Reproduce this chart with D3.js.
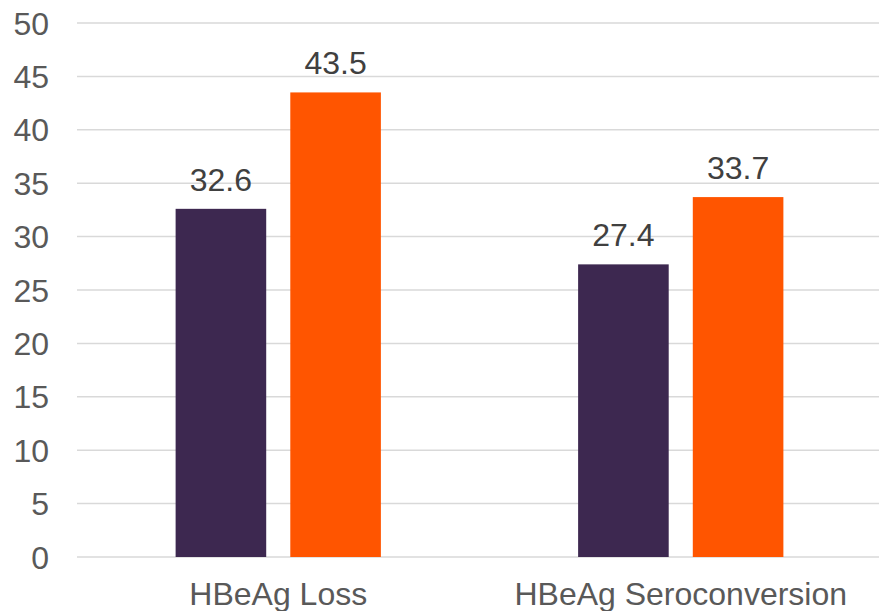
<!DOCTYPE html>
<html>
<head>
<meta charset="utf-8">
<script src="https://cdn.jsdelivr.net/npm/d3@7"></script>
<style>
  html, body { margin: 0; padding: 0; background: #ffffff; }
  svg { display: block; font-family: "Liberation Sans", Arial, sans-serif; }
</style>
</head>
<body>
<svg id="chart" width="879" height="611"></svg>
<script>
// Categories, series and values
const categories = ["HBeAg Loss", "HBeAg Seroconversion"];
const seriesNames = ["Series A", "Series B"];
const seriesA = [32.6, 27.4];
const seriesB = [43.5, 33.7];
const yTicks = [0, 5, 10, 15, 20, 25, 30, 35, 40, 45, 50];
const seriesColors = ["#3d2850", "#ff5500"];

const svg = d3.select("#chart");
const plotLeft = 77, plotRight = 882, plotTop = 23, plotBottom = 557;
const fontSize = 32;

const y = d3.scaleLinear().domain([0, 50]).range([plotBottom, plotTop]);

const x0 = d3.scaleBand()
  .domain(categories)
  .range([plotLeft, plotRight])
  .paddingInner(0.49)
  .paddingOuter(0.245);

const x1 = d3.scaleBand()
  .domain(seriesNames)
  .range([0, x0.bandwidth()])
  .paddingInner(0.21)
  .paddingOuter(0);

// Horizontal gridlines
svg.append("g")
  .selectAll("line")
  .data(yTicks)
  .join("line")
  .attr("x1", plotLeft)
  .attr("x2", 879)
  .attr("y1", d => y(d))
  .attr("y2", d => y(d))
  .attr("stroke", "#d9d9d9")
  .attr("stroke-width", 1.5);

// Y axis labels
svg.append("g")
  .selectAll("text")
  .data(yTicks)
  .join("text")
  .attr("x", 49)
  .attr("y", d => y(d))
  .attr("dy", "0.36em")
  .attr("text-anchor", "end")
  .attr("font-size", fontSize)
  .attr("fill", "#595959")
  .text(d => d);

// Bars
const rows = categories.map((c, i) => ({
  category: c,
  values: [
    { series: seriesNames[0], value: seriesA[i], color: seriesColors[0] },
    { series: seriesNames[1], value: seriesB[i], color: seriesColors[1] }
  ]
}));

const groups = svg.append("g")
  .selectAll("g")
  .data(rows)
  .join("g")
  .attr("transform", d => `translate(${x0(d.category)},0)`);

groups.selectAll("rect")
  .data(d => d.values)
  .join("rect")
  .attr("x", d => x1(d.series))
  .attr("width", x1.bandwidth())
  .attr("y", d => y(d.value))
  .attr("height", d => y(0) - y(d.value))
  .attr("fill", d => d.color);

// Value labels
groups.selectAll("text")
  .data(d => d.values)
  .join("text")
  .attr("x", d => x1(d.series) + x1.bandwidth() / 2)
  .attr("y", d => y(d.value) - 18)
  .attr("text-anchor", "middle")
  .attr("font-size", fontSize)
  .attr("fill", "#404040")
  .text(d => d.value.toFixed(1));

// Category labels
svg.append("g")
  .selectAll("text")
  .data(categories)
  .join("text")
  .attr("x", d => x0(d) + x0.bandwidth() / 2)
  .attr("y", 605)
  .attr("text-anchor", "middle")
  .attr("font-size", fontSize)
  .attr("fill", "#595959")
  .text(d => d);
</script>
</body>
</html>
